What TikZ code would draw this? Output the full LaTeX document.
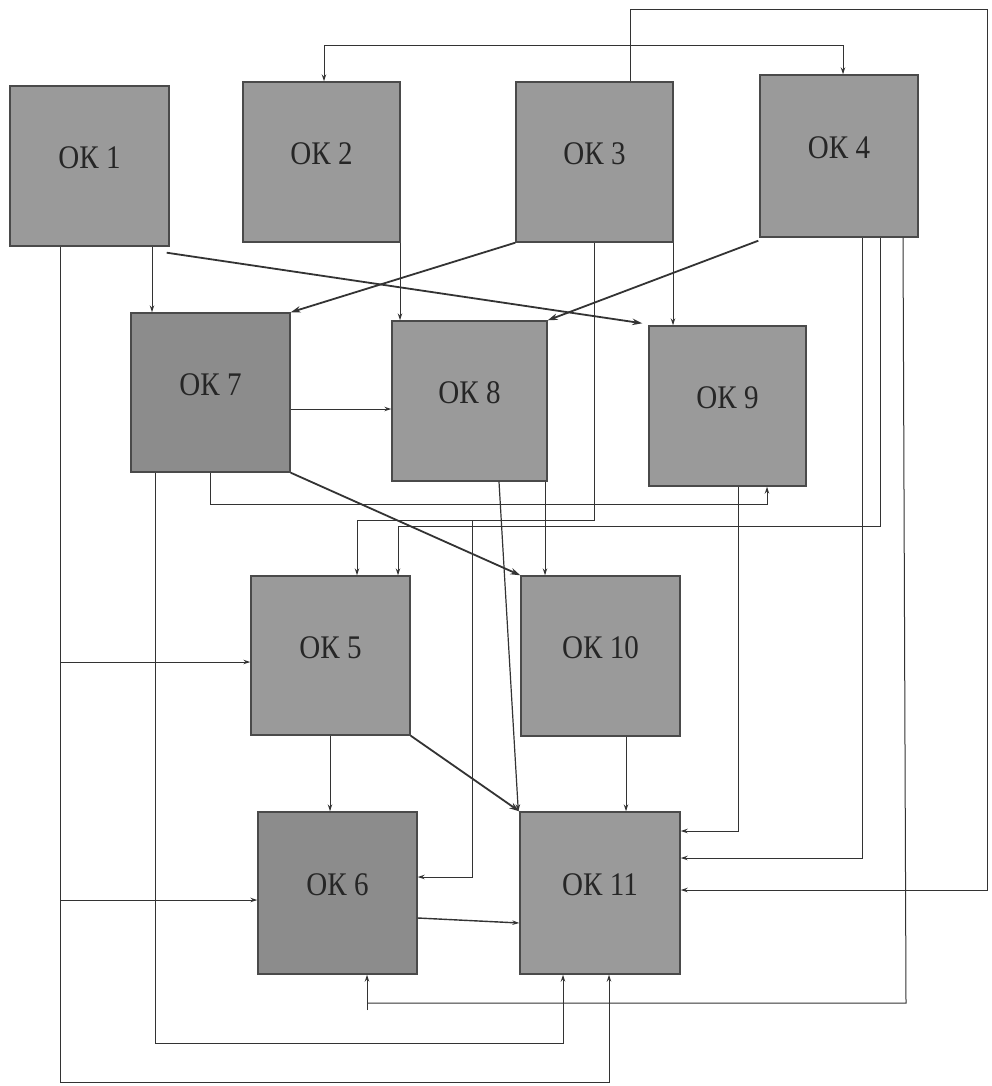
\documentclass[tikz,border=0pt]{standalone}
\usepackage{fontspec}
\usepackage{graphicx}
\setmainfont{Liberation Serif}
\usetikzlibrary{arrows.meta}
\definecolor{boxfill}{HTML}{9A9A9A}
\definecolor{boxdark}{HTML}{8C8C8C}
\definecolor{boxline}{HTML}{4A4A4A}
\definecolor{lnc}{HTML}{333333}
\newcommand\mkbox[7][boxfill]{%
  \pgfmathsetmacro\bw{#5-#3}\pgfmathsetmacro\bh{#6-#4}%
  \node[box, fill=#1, minimum width=\bw pt, minimum height=\bh pt] (#2) at ({(#3+#5)/2},{(#4+#6)/2}) {};
  \node[lbl] (#2t) at ([yshift=8pt]#2.center) {\scalebox{0.88}[1]{#7}};}
\begin{document}
\begin{tikzpicture}[x=1pt,y=-1pt,
  box/.style={draw=boxline, line width=1.4pt, rectangle, inner sep=0pt},
  lbl/.style={font=\fontsize{33}{33}\selectfont, text=black!85, inner sep=0pt},
  ln/.style={draw=lnc, line width=1pt},
  arr/.style={ln, -{Stealth[length=7pt,width=4.5pt]}},
  thk/.style={draw=lnc, line width=1.8pt, -{Stealth[length=10pt,width=6.5pt]}}]
\fill[white] (0,0) rectangle (991,1086);
\useasboundingbox (0,0) rectangle (991,1086);
% boxes
\mkbox{OK1}{10}{86}{169}{246}{ОК 1}
\mkbox{OK2}{243}{82}{400}{242}{ОК 2}
\mkbox{OK3}{516}{82}{673}{242}{ОК 3}
\mkbox{OK4}{760}{75}{918}{237}{ОК 4}
\mkbox[boxdark]{OK7}{131}{313}{290}{472}{ОК 7}
\mkbox{OK8}{392}{321}{547}{481}{ОК 8}
\mkbox{OK9}{649}{326}{806}{486}{ОК 9}
\mkbox{OK5}{251}{576}{410}{735}{ОК 5}
\mkbox{OK10}{521}{576}{680}{736}{ОК 10}
\mkbox[boxdark]{OK6}{258}{812}{417}{974}{ОК 6}
\mkbox{OK11}{520}{812}{680}{974}{ОК 11}
% junctions
\coordinate (j3) at (630,46);
\coordinate (j35) at (472,520);
\coordinate (j15) at (60,662);
\coordinate (j16) at (60,900);
% OK3 -> OK11 (around the top right)
\draw[arr] (OK3.north -| 630,0) -- (630,10) -- (987,10) -- (987,890) -- (OK11.east |- 0,890);
% OK3 -> OK2, OK4
\draw[arr] (j3) -| (OK2.north -| 324,0);
\draw[arr] (j3) -| (OK4.north -| 843,0);
% OK1
\draw[arr] (OK1.south -| 152,0) -- (OK7.north -| 152,0);
\draw[thk] ([shift={(-3,6)}]OK1.south east) -- ([shift={(-6,-2)}]OK9.north west);
\draw[arr] (OK1.south -| 60,0) |- (609,1082) -- (OK11.south -| 609,0);
\draw[arr] (j15) -- (OK5.west |- j15);
\draw[arr] (j16) -- (OK6.west |- j16);
% OK2
\draw[arr] (OK2.south -| 400,0) -- (OK8.north -| 400,0);
% OK3
\draw[thk] (OK3.south west) -- (OK7.north east);
\draw[arr] (OK3.south -| 594,0) -- (594,520) -| (OK5.north -| 357,0);
\draw[arr] (j35) -- (472,877) -- (OK6.east |- 0,877);
\draw[arr] (OK3.south -| 673,0) -- (OK9.north -| 673,0);
% OK4
\draw[thk] ([shift={(-1,3)}]OK4.south west) -- (OK8.north east);
\draw[arr] (OK4.south -| 862,0) -- (862,858) -- (OK11.east |- 0,858);
\draw[arr] (OK4.south -| 880,0) -- (880,526) -| (OK5.north -| 398,0);
\draw[ln] (OK4.south -| 903,0) -- (906,1003) -- (367,1003);
\draw[arr] (367,1010) -- (OK6.south -| 367,0);
% OK7
\draw[arr] (OK7.east |- 0,409) -- (OK8.west |- 0,409);
\draw[arr] (OK7.south -| 210,0) |- (767,504) -- (OK9.south -| 767,0);
\draw[thk] (OK7.south east) -- (OK10.north west);
\draw[arr] (OK7.south -| 155,0) |- (563,1043) -- (OK11.south -| 563,0);
% OK8
\draw[arr, line width=1.2pt] (OK8.south -| 499,0) -- ([xshift=-1pt]OK11.north west);
\draw[arr] (OK8.south -| 545,0) -- (OK10.north -| 545,0);
% OK9
\draw[arr] (OK9.south -| 738,0) |- (OK11.east |- 0,831);
% OK5
\draw[arr] (OK5.south -| 330,0) -- (OK6.north -| 330,0);
\draw[thk] (OK5.south east) -- (OK11.north west);
% OK10
\draw[arr] (OK10.south -| 626,0) -- (OK11.north -| 626,0);
% OK6
\draw[arr, line width=1.4pt] (OK6.east |- 0,918) -- (OK11.west |- 0,923);
\end{tikzpicture}
\end{document}
